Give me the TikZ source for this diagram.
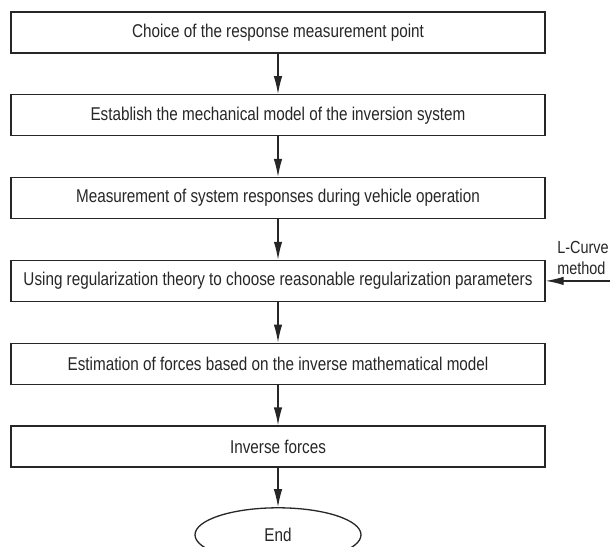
\documentclass[tikz,border=0pt]{standalone}
\usepackage{fontspec}
\setmainfont{Liberation Sans}[FakeStretch=0.825]
\usetikzlibrary{positioning, arrows.meta, shapes.geometric}

\begin{document}
\begin{tikzpicture}[>={Latex[length=18pt,width=8.5pt]}, line width=1.3pt, draw=black!85,
    stepbox/.style={draw=black!85, minimum width=534pt, minimum height=41pt, inner sep=0pt,
      font=\fontsize{18.5}{21}\selectfont, text=black!85},
    endbox/.style={draw=black!85, ellipse, minimum width=166pt, minimum height=54pt, inner sep=0pt,
      font=\fontsize{18.5}{21}\selectfont, text=black!85},
    note/.style={align=left, inner sep=0pt, font=\fontsize{17.5}{21}\selectfont, text=black!85}]
  \useasboundingbox (0,0) rectangle (610pt,-546pt);
  \node[stepbox] (point) at (278pt,-32.5pt) {Choice of the response measurement point};
  \node[stepbox, below=40.5pt of point] (model) {Establish the mechanical model of the inversion system};
  \node[stepbox, below=40.5pt of model] (meas) {Measurement of system responses during vehicle operation};
  \node[stepbox, below=40.5pt of meas] (reg) {Using regularization theory to choose reasonable regularization parameters};
  \node[stepbox, below=40.5pt of reg] (est) {Estimation of forces based on the inverse mathematical model};
  \node[stepbox, below=40.5pt of est] (inv) {Inverse forces};
  \node[endbox, below=39.5pt of inv] (end) {End};
  \node[note, above right=6pt and 11pt of reg.east] (lcurve) {L-Curve\\method};
  \coordinate[right=65pt of reg] (lsrc);
  \draw[->, black!85] (point) -- (model);
  \draw[->, black!85] (model) -- (meas);
  \draw[->, black!85] (meas) -- (reg);
  \draw[->, black!85] (reg) -- (est);
  \draw[->, black!85] (est) -- (inv);
  \draw[->, black!85] (inv) -- (end);
  \draw[->, black!85] (lsrc) -- (reg);
\end{tikzpicture}
\end{document}
